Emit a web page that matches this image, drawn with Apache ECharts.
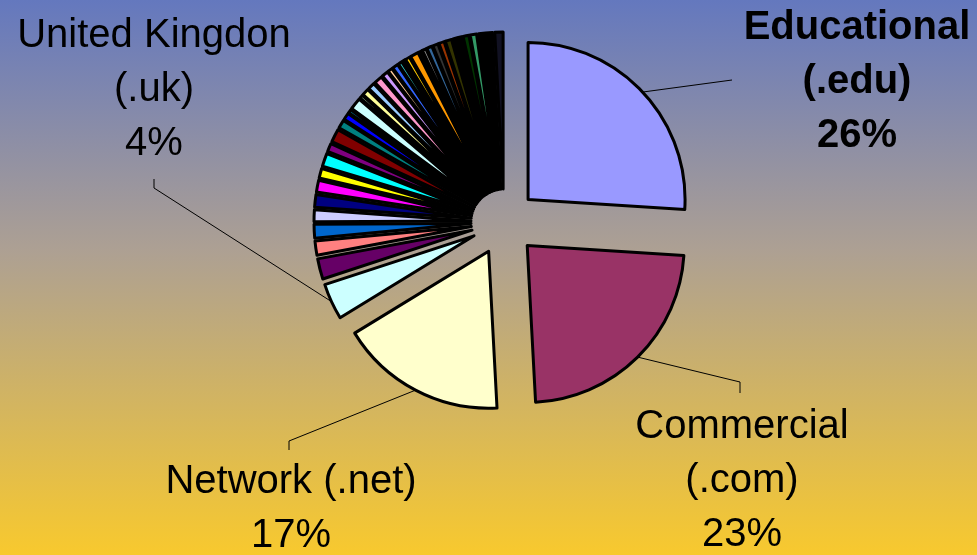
<!DOCTYPE html>
<html>
<head>
<meta charset="utf-8">
<title>Hosts by domain</title>
<script src="https://cdn.jsdelivr.net/npm/echarts@6/dist/echarts.min.js"></script>
<style>
  html, body { margin: 0; padding: 0; }
  #ddd { width: 977px; height: 555px; }
</style>
</head>
<body>
<div id="ddd"></div>
<script>
  // big domains, clockwise from 12 o'clock (percent)
  var bigNames = ['Educational\n(.edu)', 'Commercial\n(.com)', 'Network (.net)', 'United Kingdon\n(.uk)'];
  var bigShares = [26, 23.1, 17.1, 3.7];
  // all the small domains after .uk (percent)
  var smallShares = [2.1, 1.45, 1.4, 1.2, 1.3, 1.2, 1.0, 1.35, 0.85, 1.35, 0.85, 0.7,
    0.35, 1.2, 0.35, 0.7, 0.7, 0.85, 0.65, 0.45, 0.6, 0.4, 0.3, 0.45,
    0.85, 0.3, 0.4, 0.55, 0.55, 0.55, 0.65, 0.9, 0.6, 0.65, 1.4, 0.85];

  // excel style fill palette
  var sliceColors = ['#9999FF', '#993366', '#FFFFCC', '#CCFFFF',
    '#660066', '#FF8080', '#0066CC', '#CCCCFF', '#000080', '#FF00FF', '#FFFF00', '#00FFFF',
    '#800080', '#800000', '#008080', '#0000FF', '#00CCFF', '#CCFFFF', '#CCFFCC', '#FFFF99',
    '#99CCFF', '#FF99CC', '#CC99FF', '#FFCC99', '#3366FF', '#33CCCC', '#99CC00', '#FFCC00',
    '#FF9900', '#FF6600', '#969696', '#336699', '#333333', '#993300', '#333300', '#000000',
    '#003300', '#339966', '#000000', '#111122'];

  var pieCenter = [504, 222];
  var pieRadius = 157;
  var explode = 33;

  // where the 4 labels sit and how their leader lines bend
  var labelSpots = {
    0: { x: 857, y: 82, bend: [[732, 80]] },
    1: { x: 742, y: 481, bend: [[740, 382], [740, 393]] },
    2: { x: 291, y: 509, bend: [[289, 441], [289, 450]] },
    3: { x: 154, y: 90, bend: [[154, 188], [154, 179]] }
  };

  var pieData = [];
  var labelData = [];
  bigShares.forEach(function (v, i) {
    pieData.push({ name: bigNames[i], value: v, selected: true });
    labelData.push({
      name: bigNames[i],
      value: v,
      label: { show: true, fontWeight: i === 0 ? 'bold' : 'normal' },
      labelLine: { show: true }
    });
  });
  smallShares.forEach(function (v, i) {
    pieData.push({ name: 'Other ' + (i + 1), value: v, selected: true });
    labelData.push({ name: 'Other ' + (i + 1), value: v });
  });

  var myChart = echarts.init(document.getElementById('ddd'), null, { renderer: 'canvas' });
  myChart.setOption({
    animation: false,
    backgroundColor: {
      type: 'linear', x: 0, y: 0, x2: 0, y2: 1,
      colorStops: [
        { offset: 0, color: '#6478BE' },
        { offset: 0.45, color: '#ADA093' },
        { offset: 1, color: '#F8C92E' }
      ]
    },
    color: sliceColors,
    series: [{
      // the exploded slices
      type: 'pie',
      center: pieCenter,
      radius: [0, pieRadius],
      startAngle: 90,
      clockwise: true,
      selectedMode: 'multiple',
      selectedOffset: explode,
      silent: true,
      itemStyle: { borderColor: '#000', borderWidth: 3 },
      select: { itemStyle: { borderColor: '#000', borderWidth: 3 } },
      emphasis: { disabled: true },
      label: { show: false },
      labelLine: { show: false },
      data: pieData
    }, {
      // same data again, invisible, only carries the labels
      type: 'pie',
      center: pieCenter,
      radius: [0, pieRadius],
      startAngle: 90,
      clockwise: true,
      silent: true,
      avoidLabelOverlap: false,
      percentPrecision: 1,
      itemStyle: { color: 'rgba(0,0,0,0)', borderWidth: 0 },
      emphasis: { disabled: true },
      label: {
        show: false,
        position: 'outside',
        formatter: function (p) {
          return p.name + '\n' + Math.round(p.percent) + '%';
        },
        color: '#000',
        fontFamily: 'Liberation Sans, Arial, sans-serif',
        fontSize: 40,
        lineHeight: 54,
        align: 'center'
      },
      labelLine: { show: false, length: 15, length2: 15, lineStyle: { color: '#000', width: 1 } },
      labelLayout: function (params) {
        var spot = labelSpots[params.dataIndex];
        if (!spot) return {};
        var pts = [];
        var lp = params.labelLinePoints;
        if (lp && lp.length > 1) {
          // push the start point out along the slice's own radius, like the explode
          var ux = lp[1][0] - lp[0][0];
          var uy = lp[1][1] - lp[0][1];
          var len = Math.sqrt(ux * ux + uy * uy) || 1;
          pts.push([lp[0][0] + ux / len * explode, lp[0][1] + uy / len * explode]);
        }
        return {
          x: spot.x,
          y: spot.y,
          align: 'center',
          verticalAlign: 'middle',
          labelLinePoints: pts.concat(spot.bend)
        };
      },
      data: labelData
    }]
  });
</script>
</body>
</html>
